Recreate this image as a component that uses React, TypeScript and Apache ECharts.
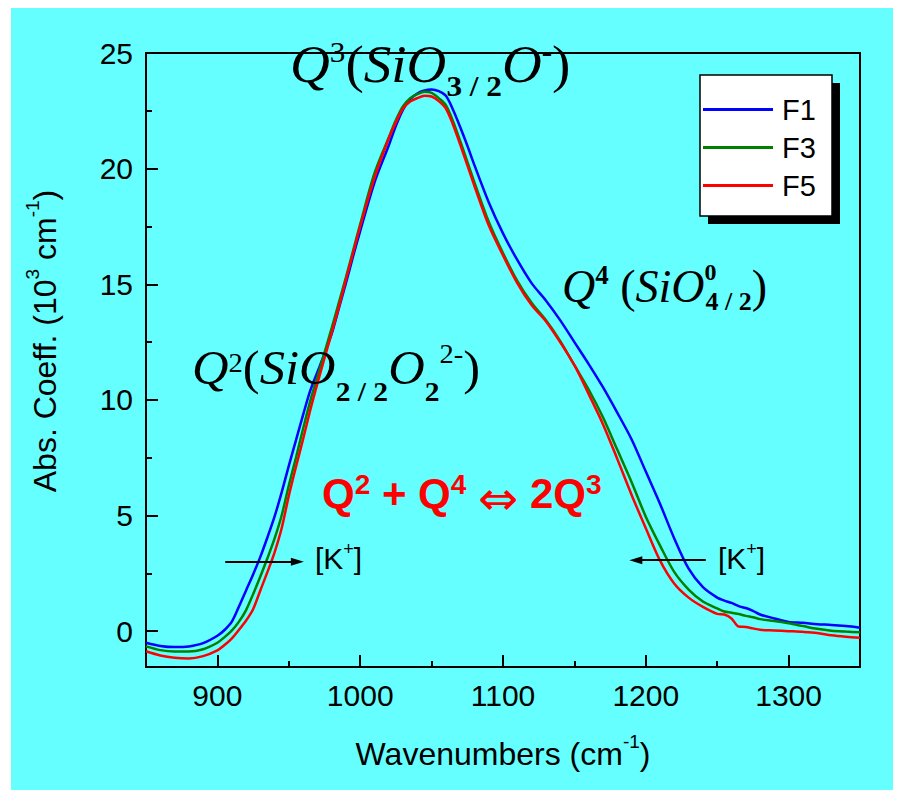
import React, { useEffect, useRef } from 'react';
import * as echarts from 'echarts';

const wavenumbers = [850, 860, 870, 880, 890, 900, 905, 910, 915, 920, 925, 930, 935, 940, 945, 950, 955, 960, 965, 970, 975, 980, 985, 990, 995, 1000, 1010, 1020, 1025, 1030, 1035, 1040, 1045, 1050, 1055, 1060, 1065, 1070, 1075, 1080, 1090, 1100, 1110, 1120, 1130, 1140, 1150, 1160, 1170, 1180, 1190, 1200, 1210, 1220, 1230, 1240, 1250, 1255, 1260, 1265, 1270, 1275, 1280, 1290, 1300, 1310, 1320, 1330, 1340, 1350];

const f1 = [-0.50, -0.64, -0.69, -0.66, -0.52, -0.20, 0.05, 0.40, 1.05, 1.75, 2.45, 3.20, 4.05, 4.95, 6.00, 7.15, 8.25, 9.35, 10.40, 11.20, 12.00, 12.85, 13.95, 15.05, 16.20, 17.30, 19.40, 21.00, 21.85, 22.55, 23.00, 23.25, 23.38, 23.42, 23.35, 23.15, 22.55, 21.80, 21.00, 20.15, 18.55, 17.20, 16.05, 15.05, 14.30, 13.45, 12.50, 11.55, 10.55, 9.45, 8.30, 6.90, 5.50, 4.00, 2.70, 1.90, 1.45, 1.32, 1.22, 1.08, 1.00, 0.88, 0.72, 0.55, 0.40, 0.36, 0.30, 0.27, 0.22, 0.15];

const f3 = [-0.66, -0.82, -0.88, -0.88, -0.78, -0.50, -0.26, 0.02, 0.40, 0.90, 1.60, 2.35, 3.15, 4.00, 5.00, 6.30, 7.50, 8.75, 9.95, 11.00, 12.05, 13.10, 14.20, 15.30, 16.45, 17.60, 19.80, 21.35, 22.10, 22.70, 23.05, 23.22, 23.32, 23.28, 23.05, 22.75, 22.05, 21.20, 20.30, 19.40, 17.70, 16.35, 15.15, 14.20, 13.45, 12.55, 11.50, 10.45, 9.25, 7.85, 6.45, 4.95, 3.70, 2.55, 1.80, 1.28, 0.98, 0.85, 0.80, 0.74, 0.66, 0.60, 0.52, 0.44, 0.34, 0.22, 0.10, 0.02, -0.02, -0.05];

const f5 = [-0.87, -1.05, -1.15, -1.18, -1.08, -0.83, -0.60, -0.32, 0.05, 0.45, 0.95, 1.75, 2.55, 3.40, 4.45, 5.85, 7.10, 8.30, 9.55, 10.70, 11.80, 12.90, 14.00, 15.20, 16.35, 17.50, 19.60, 21.30, 22.00, 22.60, 22.90, 23.05, 23.15, 23.12, 22.92, 22.60, 21.90, 21.05, 20.15, 19.25, 17.55, 16.25, 15.05, 14.10, 13.40, 12.50, 11.50, 10.25, 8.95, 7.45, 5.90, 4.45, 3.05, 2.05, 1.45, 1.05, 0.75, 0.72, 0.55, 0.20, 0.18, 0.12, 0.06, 0.03, 0.00, -0.03, -0.08, -0.18, -0.24, -0.28];

const seriesNames = ['F1', 'F3', 'F5'];
const seriesColors = ['#0000FF', '#008000', '#FF0000'];

const xMajorTicks = [900, 1000, 1100, 1200, 1300];
const xMinorTicks = [950, 1050, 1150, 1250];
const yMajorTicks = [0, 5, 10, 15, 20, 25];
const yMinorTicks = [2.5, 7.5, 12.5, 17.5, 22.5];

// [K+] arrows in data coordinates: [start, end]
const arrowLeft = [[905.5, 3.0], [956, 3.0]];
const arrowRight = [[1242, 3.07], [1193, 3.07]];

const SANS = 'Liberation Sans, Arial, sans-serif';
const SERIF = 'Liberation Serif, Times New Roman, serif';

function pairs(xs: number[], ys: number[]) {
  return xs.map((x, i) => [x, ys[i]]);
}

export default function App() {
  const ref = useRef<HTMLDivElement>(null);
  useEffect(() => {
    if (!ref.current) return;
    const chart = echarts.init(ref.current, null, { renderer: 'svg' });
    const datasets = [f1, f3, f5];
    const axisLineStyle = { color: '#000', width: 2 };
    const titleRich = {
      a: { fontFamily: SANS, fontSize: 32, color: '#000' },
      s: { fontFamily: SANS, fontSize: 19, color: '#000', padding: [0, 0, 24, 0] },
    };
    const option: any = {
      animation: false,
      backgroundColor: '#ffffff',
      grid: { left: 146, right: 40, top: 53, bottom: 136 },
      legend: {
        data: seriesNames,
        orient: 'vertical',
        left: 703,
        top: 95,
        padding: 0,
        icon: 'rect',
        itemWidth: 70,
        itemHeight: 3,
        itemGap: 9,
        selectedMode: false,
        z: 10,
        textStyle: { fontFamily: SANS, fontSize: 29, color: '#000', padding: [0, 0, 0, 4] },
      },
      xAxis: [
        {
          type: 'value', min: 850, max: 1350, position: 'bottom',
          name: '{a|Wavenumbers (cm}{s|-1}{a|)}',
          nameLocation: 'middle', nameGap: 65,
          nameTextStyle: { rich: titleRich },
          axisLine: { show: true, onZero: false, lineStyle: axisLineStyle },
          axisTick: { show: true, inside: true, length: 12, customValues: xMajorTicks, lineStyle: axisLineStyle },
          axisLabel: { customValues: xMajorTicks, formatter: (v: number) => String(v), fontFamily: SANS, fontSize: 30, color: '#000', margin: 13 },
          splitLine: { show: false },
        },
        {
          type: 'value', min: 850, max: 1350, position: 'bottom',
          axisLine: { show: false, onZero: false },
          axisTick: { show: true, inside: true, length: 6, customValues: xMinorTicks, lineStyle: axisLineStyle },
          axisLabel: { show: false },
          splitLine: { show: false },
        },
        {
          type: 'value', min: 850, max: 1350, position: 'top',
          axisLine: { show: true, onZero: false, lineStyle: axisLineStyle },
          axisTick: { show: false },
          axisLabel: { show: false },
          splitLine: { show: false },
        },
      ],
      yAxis: [
        {
          type: 'value', min: -1.55, max: 25, position: 'left',
          name: '{a|Abs. Coeff. (10}{s|3}{a| cm}{s|-1}{a|)}',
          nameLocation: 'middle', nameGap: 80,
          nameTextStyle: { padding: [0, 0, 0, 38], rich: titleRich },
          axisLine: { show: true, onZero: false, lineStyle: axisLineStyle },
          axisTick: { show: true, inside: true, length: 12, customValues: yMajorTicks, lineStyle: axisLineStyle },
          axisLabel: { customValues: yMajorTicks, formatter: (v: number) => String(v), fontFamily: SANS, fontSize: 30, color: '#000', margin: 13 },
          splitLine: { show: false },
        },
        {
          type: 'value', min: -1.55, max: 25, position: 'left',
          axisLine: { show: false, onZero: false },
          axisTick: { show: true, inside: true, length: 6, customValues: yMinorTicks, lineStyle: axisLineStyle },
          axisLabel: { show: false },
          splitLine: { show: false },
        },
        {
          type: 'value', min: -1.55, max: 25, position: 'right',
          axisLine: { show: true, onZero: false, lineStyle: axisLineStyle },
          axisTick: { show: false },
          axisLabel: { show: false },
          splitLine: { show: false },
        },
      ],
      series: [
        ...seriesNames.map((name, i) => ({
          type: 'line',
          name,
          xAxisIndex: 0,
          yAxisIndex: 0,
          data: pairs(wavenumbers, datasets[i]),
          showSymbol: false,
          symbol: 'none',
          smooth: 0.3,
          lineStyle: { color: seriesColors[i], width: 2.5 },
          itemStyle: { color: seriesColors[i] },
          emphasis: { disabled: true },
        })),
        {
          type: 'line',
          name: 'arrows',
          xAxisIndex: 0,
          yAxisIndex: 0,
          data: [],
          markLine: {
            silent: true,
            symbol: ['none', 'triangle'],
            symbolSize: [8, 13],
            label: { show: false },
            lineStyle: { color: '#000', width: 2, type: 'solid' },
            itemStyle: { color: '#000' },
            emphasis: { disabled: true },
            data: [
              [{ coord: arrowLeft[0] }, { coord: arrowLeft[1] }],
              [{ coord: arrowRight[0] }, { coord: arrowRight[1] }],
            ],
          },
        },
      ],
      graphic: [
        { type: 'rect', z: -100, silent: true, shape: { x: 11, y: 8, width: 882, height: 782 }, style: { fill: '#66FFFF' } },
        { type: 'rect', z: 5, silent: true, shape: { x: 708, y: 83, width: 132, height: 141 }, style: { fill: '#000' } },
        { type: 'rect', z: 6, silent: true, shape: { x: 700, y: 75, width: 132, height: 141 }, style: { fill: '#fff', stroke: '#000', lineWidth: 1.5 } },
        {
          type: 'text', z: 20, x: 290, y: 64, scaleX: 1.04,
          style: {
            text: '{q|Q}{su|3}{p|(}{i|SiO}{sb|3 / 2}{i|O}{su|-}{p|)}',
            fill: '#000', align: 'left', verticalAlign: 'middle',
            rich: {
              q: { fontFamily: SERIF, fontStyle: 'italic', fontSize: 53 },
              su: { fontFamily: SERIF, fontSize: 30, padding: [0, 0, 24, 0] },
              p: { fontFamily: SERIF, fontSize: 53 },
              i: { fontFamily: SERIF, fontStyle: 'italic', fontSize: 53 },
              sb: { fontFamily: SERIF, fontWeight: 'bold', fontSize: 30, padding: [44, 0, 0, 0] },
            },
          },
        },
        {
          type: 'text', z: 20, x: 192, y: 368, scaleX: 1.055,
          style: {
            text: '{q|Q}{su|2}{p|(}{i|SiO}{sb|2 / 2}{i|O}{sb|2}{su2|2-}{p|)}',
            fill: '#000', align: 'left', verticalAlign: 'middle',
            rich: {
              q: { fontFamily: SERIF, fontStyle: 'italic', fontSize: 48 },
              su: { fontFamily: SERIF, fontSize: 27, padding: [0, 0, 10, 0] },
              su2: { fontFamily: SERIF, fontSize: 27, padding: [0, 0, 28, 0] },
              p: { fontFamily: SERIF, fontSize: 48 },
              i: { fontFamily: SERIF, fontStyle: 'italic', fontSize: 48 },
              sb: { fontFamily: SERIF, fontWeight: 'bold', fontSize: 28, padding: [47, 0, 0, 0] },
            },
          },
        },
        {
          type: 'text', z: 20, x: 562, y: 286,
          style: {
            text: '{q|Q}{su|4}{p| (}{i|SiO}{su0|0}{sb|4 / 2}{p|)}',
            fill: '#000', align: 'left', verticalAlign: 'middle',
            rich: {
              q: { fontFamily: SERIF, fontStyle: 'italic', fontSize: 46 },
              su: { fontFamily: SERIF, fontWeight: 'bold', fontSize: 27, padding: [0, 0, 22, 0] },
              su0: { fontFamily: SERIF, fontWeight: 'bold', fontSize: 24, width: 1, padding: [0, 0, 28, 0] },
              p: { fontFamily: SERIF, fontSize: 46 },
              i: { fontFamily: SERIF, fontStyle: 'italic', fontSize: 46 },
              sb: { fontFamily: SERIF, fontWeight: 'bold', fontSize: 26, padding: [30, 0, 0, 0] },
            },
          },
        },
        {
          type: 'text', z: 20, x: 322, y: 493,
          style: {
            text: '{b|Q}{s|2}{b| + Q}{s|4}{sp| }{ar|⇔}{sp| }{b|2Q}{s|3}',
            fill: '#FF0000', align: 'left', verticalAlign: 'middle',
            rich: {
              b: { fontFamily: SANS, fontWeight: 'bold', fontSize: 42 },
              s: { fontFamily: SANS, fontWeight: 'bold', fontSize: 28, padding: [0, 0, 18, 0] },
              sp: { fontFamily: SANS, fontWeight: 'bold', fontSize: 42 },
              ar: { fontFamily: 'DejaVu Sans, sans-serif', fontSize: 48, padding: [9, 0, 0, 0] },
            },
          },
        },
        {
          type: 'text', z: 20, x: 315, y: 558,
          style: {
            text: '{a|[K}{s|+}{a|]}',
            fill: '#000', align: 'left', verticalAlign: 'middle',
            rich: {
              a: { fontFamily: SANS, fontSize: 30 },
              s: { fontFamily: SANS, fontSize: 18, padding: [0, 0, 18, 0] },
            },
          },
        },
        {
          type: 'text', z: 20, x: 718, y: 558,
          style: {
            text: '{a|[K}{s|+}{a|]}',
            fill: '#000', align: 'left', verticalAlign: 'middle',
            rich: {
              a: { fontFamily: SANS, fontSize: 30 },
              s: { fontFamily: SANS, fontSize: 18, padding: [0, 0, 18, 0] },
            },
          },
        },
      ],
    };
    chart.setOption(option);
    return () => chart.dispose();
  }, []);
  return (
    <div style={{ position: 'absolute', left: 0, top: 0, width: 900, height: 803, background: '#fff' }}>
      <div ref={ref} style={{ width: 900, height: 803 }} />
    </div>
  );
}
